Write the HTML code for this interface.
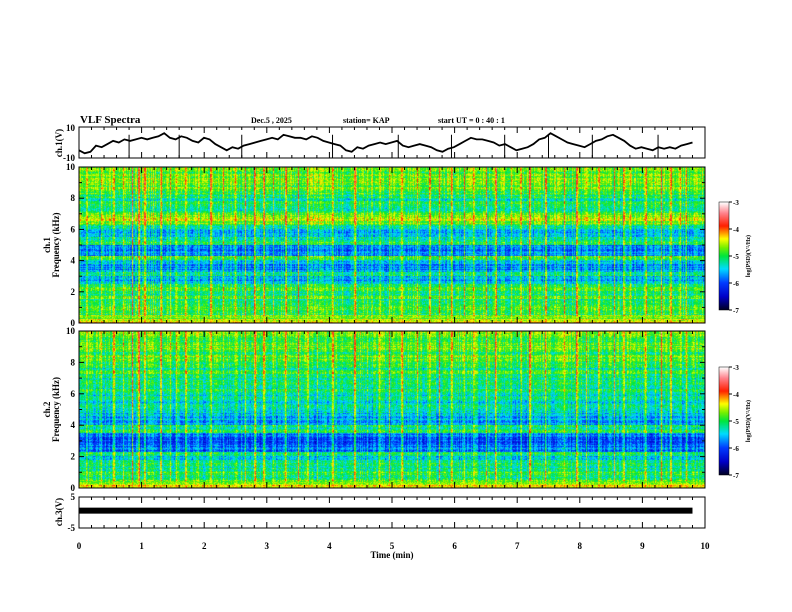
<!DOCTYPE html>
<html><head><meta charset="utf-8">
<style>
body{margin:0;background:#fff;width:792px;height:612px;overflow:hidden;font-family:"Liberation Serif",serif;}
#wrap{position:relative;width:792px;height:612px;}
canvas{position:absolute;}
svg{position:absolute;left:0;top:0;}
text{font-family:"Liberation Serif",serif;font-weight:bold;fill:#000;}
</style></head>
<body>
<div id="wrap">
<canvas id="spec1" width="626" height="156" style="left:79px;top:167px"></canvas>
<canvas id="spec2" width="626" height="157" style="left:79px;top:331px"></canvas>
<canvas id="cb1" width="10" height="108" style="left:719px;top:202px"></canvas>
<canvas id="cb2" width="10" height="108" style="left:719px;top:367px"></canvas>
<svg id="svg" width="792" height="612"></svg>
</div>
<script>
// ---- data ----
const timeTicks=[0,1,2,3,4,5,6,7,8,9,10];
const freqTicks=[0,2,4,6,8,10];
const cbTicks=[-3,-4,-5,-6,-7];
// ch1 voltage trace (V), sampled evenly over 0..9.8 min
const ch1Trace=[-5,-7,-6,-2,-3,-1,1,0,2,1,2,3,2,3,4,6,3,2,4,3,1,0,3,2,-1,-3,-5,-3,-4,-2,-1,0,1,2,3,2,5,4,3,3,2,4,3,1,0,-1,-2,-5,-6,-3,-4,-2,-1,0,-1,0,1,-2,-3,-2,-1,-2,-3,-5,-6,-4,-3,-1,1,3,2,2,1,0,-2,-1,-3,-5,-4,-3,-1,2,3,6,4,2,0,-1,-2,-3,-1,1,2,4,5,3,1,-2,-4,-3,-4,-5,-3,-4,-3,-4,-2,-1,0];
const ch1Spikes=[0.8,1.6,2.6,4.05,5.1,5.95,6.8,7.5,8.2,9.25];
const ch3Level=0.6;
// spectrogram band levels log10(PSD) per 0.25 kHz bin (0 -> 10 kHz)
const bands1=[-4.4,-4.7,-5.0,-4.9,-5.0,-5.1,-4.9,-5.1,-4.8,-5.1,-5.6,-5.5,-5.1,-5.7,-5.7,-5.5,-4.9,-5.7,-5.8,-5.7,-5.0,-5.2,-5.5,-5.6,-5.3,-4.7,-4.5,-4.8,-5.1,-5.2,-5.0,-5.2,-5.1,-4.9,-4.8,-4.7,-4.8,-4.7,-4.8,-4.7];
const bands2=[-4.4,-4.8,-5.1,-5.0,-5.1,-5.2,-5.1,-5.5,-5.1,-5.8,-5.9,-6.0,-5.9,-5.8,-5.0,-5.2,-5.7,-5.6,-5.5,-5.4,-5.2,-5.5,-5.3,-5.4,-5.1,-5.3,-5.0,-5.2,-5.1,-4.8,-5.2,-5.1,-4.9,-4.8,-5.0,-4.7,-4.8,-4.9,-4.8,-4.7];
// impulsive events (time min) and strength (added log units)
const eventTimes=[0.12,0.35,0.55,0.7,0.85,0.95,1.05,1.18,1.3,1.45,1.55,1.7,1.9,2.1,2.3,2.5,2.65,2.8,2.95,3.1,3.3,3.5,3.65,3.8,4.05,4.2,4.4,4.6,4.8,4.95,5.15,5.4,5.6,5.75,5.95,6.15,6.3,6.5,6.65,6.9,7.05,7.2,7.45,7.6,7.75,7.95,8.1,8.3,8.55,8.7,8.8,9.05,9.2,9.3,9.45,9.6,9.7];
const eventAmps=[0.5,0.7,0.7,0.5,1.0,0.9,0.8,0.5,0.6,0.9,0.7,0.5,0.6,0.5,0.6,0.5,0.7,0.9,0.7,0.6,0.8,0.9,0.5,0.6,0.7,0.5,0.8,0.6,0.5,0.7,0.8,0.6,0.5,0.8,0.7,0.7,0.5,0.9,0.8,0.6,0.5,0.9,0.6,0.5,0.7,0.8,0.5,0.7,0.7,0.5,0.6,0.7,0.5,0.9,0.8,0.5,0.6];
// ---- scales ----
const X0=79,X1=705,TMAX=10;
const xs=t=>X0+(X1-X0)*t/TMAX;
const NS='http://www.w3.org/2000/svg';
const svg=document.getElementById('svg');
function el(tag,attrs,txt){const e=document.createElementNS(NS,tag);for(const k in attrs)e.setAttribute(k,attrs[k]);if(txt!==undefined)e.textContent=txt;svg.appendChild(e);return e;}
const stops=[[0,[0,0,40]],[0.12,[0,0,200]],[0.25,[0,60,255]],[0.38,[0,220,255]],[0.5,[0,230,60]],[0.58,[120,240,0]],[0.66,[255,255,0]],[0.78,[255,30,0]],[0.9,[255,130,140]],[1,[255,255,255]]];
function cmap(v){let t=(v+7)/4;t=Math.max(0,Math.min(1,t));for(let i=1;i<stops.length;i++){if(t<=stops[i][0]){const a=stops[i-1],b=stops[i];const f=(t-a[0])/(b[0]-a[0]);return a[1].map((c,j)=>Math.round(c+(b[1][j]-c)*f));}}return [255,255,255];}
function hash(a,b){let h=(a*374761393+b*668265263)|0;h=(h^(h>>>13))*1274126177|0;return ((h^(h>>>16))>>>0)/4294967296;}
function drawSpec(id,bands,seed){
 const c=document.getElementById(id),ctx=c.getContext('2d');const W=c.width,H=c.height;
 const img=ctx.createImageData(W,H);
 const col=new Float32Array(W);
 for(let x=0;x<W;x++){const t=x/W*TMAX;let s=0;for(let i=0;i<eventTimes.length;i++){const d=Math.abs(t-eventTimes[i]);if(d<0.012)s+=eventAmps[i];}col[x]=s+(hash(x,seed)-0.5)*0.6;}
 for(let y=0;y<H;y++){const f=(H-1-y)/H*10;const bi=Math.min(bands.length-1,Math.floor(f/0.25));const rowAdj=(hash(y,seed+7)-0.5)*0.4;
  for(let x=0;x<W;x++){const v=bands[bi]+col[x]*(f>0.4?1:0.3)+rowAdj+(hash(x*3+y,seed+y)-0.5)*0.55;const [r,g,b]=cmap(v);const k=(y*W+x)*4;img.data[k]=r;img.data[k+1]=g;img.data[k+2]=b;img.data[k+3]=255;}}
 ctx.putImageData(img,0,0);
}
drawSpec('spec1',bands1,11);drawSpec('spec2',bands2,23);
function drawCB(id){const c=document.getElementById(id),ctx=c.getContext('2d');for(let y=0;y<c.height;y++){const v=-3-4*y/(c.height-1);const [r,g,b]=cmap(v);ctx.fillStyle=`rgb(${r},${g},${b})`;ctx.fillRect(0,y,c.width,1);}}
drawCB('cb1');drawCB('cb2');
// ---- panels ----
const panels=[{y0:127,y1:158},{y0:167,y1:323},{y0:331,y1:488},{y0:497,y1:528}];
panels.forEach((p,pi)=>{
 const r=el('rect',{x:X0,y:p.y0,width:X1-X0,height:p.y1-p.y0,fill:'none',stroke:'#000','stroke-width':1});
 
 for(let t=0;t<=TMAX+1e-9;t+=0.2){const x=xs(t);const maj=Math.abs(t-Math.round(t))<1e-6;const L=maj?6:3;
  el('line',{x1:x,y1:p.y0,x2:x,y2:p.y0+L,stroke:'#000'});el('line',{x1:x,y1:p.y1,x2:x,y2:p.y1-L,stroke:'#000'});}
});
// top trace
const y1s=v=>127+(10-v)/20*31;
let d='';ch1Trace.forEach((v,i)=>{const x=xs(i/(ch1Trace.length-1)*9.8);d+=(i?'L':'M')+x.toFixed(1)+','+y1s(v).toFixed(1);});
const tr=el('path',{d:d,fill:'none',stroke:'#000','stroke-width':1.8});

ch1Spikes.forEach(t=>{const s=el('line',{x1:xs(t),y1:y1s(5),x2:xs(t),y2:y1s(-10),stroke:'#000'});});
el('text',{x:75,y:131,'font-size':9,'text-anchor':'end'},'10');el('text',{x:75,y:161,'font-size':9,'text-anchor':'end'},'-10');
el('text',{x:0,y:0,'font-size':9,'text-anchor':'middle',transform:'translate(62,143) rotate(-90)'},'ch.1(V)');
// ch3
const y3s=v=>497+(5-v)/10*31;
const b3=el('rect',{x:X0,y:y3s(ch3Level)-3,width:xs(9.8)-X0,height:6,fill:'#000'});

el('text',{x:75,y:500,'font-size':9,'text-anchor':'end'},'5');el('text',{x:75,y:531,'font-size':9,'text-anchor':'end'},'-5');
el('text',{x:0,y:0,'font-size':9,'text-anchor':'middle',transform:'translate(62,512) rotate(-90)'},'ch.3(V)');
// freq axes
[[167,323,'ch.1'],[331,488,'ch.2']].forEach(([a,b,lab])=>{
 freqTicks.forEach(f=>{const y=b-(b-a)*f/10;el('text',{x:75,y:y+3,'font-size':9,'text-anchor':'end'},String(f));
  el('line',{x1:X0,y1:y,x2:X0+5,y2:y,stroke:'#000'});el('line',{x1:X1,y1:y,x2:X1-5,y2:y,stroke:'#000'});});
 for(let f=1;f<10;f+=2){const y=b-(b-a)*f/10;el('line',{x1:X0,y1:y,x2:X0+3,y2:y,stroke:'#000'});el('line',{x1:X1,y1:y,x2:X1-3,y2:y,stroke:'#000'});}
 const m=(a+b)/2;
 el('text',{x:0,y:0,'font-size':9,'text-anchor':'middle',transform:`translate(50,${m}) rotate(-90)`},lab);
 el('text',{x:0,y:0,'font-size':9,'text-anchor':'middle',transform:`translate(59,${m}) rotate(-90)`},'Frequency (kHz)');
});
// colorbars
[[202],[367]].forEach(([top])=>{
 el('rect',{x:719,y:top,width:10,height:108,fill:'none',stroke:'#000','stroke-width':0.5});
 cbTicks.forEach((v,i)=>{const y=top+108*i/4;el('line',{x1:729,y1:y,x2:732,y2:y,stroke:'#000'});el('text',{x:733,y:y+3,'font-size':7},String(v));});
 el('text',{x:0,y:0,'font-size':6,'text-anchor':'middle',transform:`translate(750,${top+54}) rotate(-90)`},'log(PSD)(V²/Hz)');
});
// x axis labels
timeTicks.forEach(t=>{const tx=el('text',{x:xs(t),y:549,'font-size':9,'text-anchor':'middle'},String(t));});
const xt=el('text',{x:392,y:558,'font-size':9,'text-anchor':'middle'},'Time (min)');
// header
const ti=el('text',{x:80,y:123,'font-size':11,'font-weight':'bold'},'VLF Spectra');
el('text',{x:251,y:123,'font-size':8},'Dec.5 , 2025');
el('text',{x:343,y:123,'font-size':8},'station= KAP');
el('text',{x:438,y:123,'font-size':8},'start UT =  0 : 40 : 1');
</script>
</body></html>
